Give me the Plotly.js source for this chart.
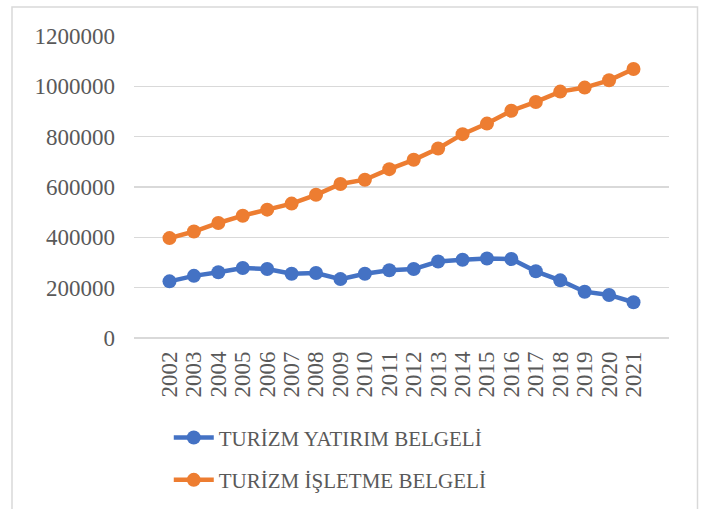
<!DOCTYPE html>
<html>
<head>
<meta charset="utf-8">
<script src="https://cdn.plot.ly/plotly-3.0.1.min.js"></script>
<style>html,body{margin:0;padding:0;background:#fff;}#chart{width:703px;height:509px;}</style>
</head>
<body>
<div id="chart"></div>
<script>
var years = ["2002","2003","2004","2005","2006","2007","2008","2009","2010","2011","2012","2013","2014","2015","2016","2017","2018","2019","2020","2021"];
var yatirim = [225000,247000,261000,278000,274000,255000,258000,234000,255000,269000,274000,304000,311000,316000,314000,265000,229000,184000,171000,142000];
var isletme = [397000,423000,457000,486000,510000,534000,569000,612000,629000,671000,708000,753000,810000,852000,903000,938000,979000,995000,1024000,1069000];
var seriesNames = ["TURİZM YATIRIM BELGELİ","TURİZM İŞLETME BELGELİ"];
var yTicks = [0,200000,400000,600000,800000,1000000,1200000];

var font = "Liberation Serif";
var textColor = "#595959";
var traces = [
  {x: years, y: yatirim, name: seriesNames[0], legendgroup: "g1", type: "scatter", mode: "lines+markers",
   line: {color: "#4472C4", width: 4.5}, marker: {color: "#4472C4", size: 14}},
  {x: years, y: isletme, name: seriesNames[1], legendgroup: "g2", type: "scatter", mode: "lines+markers",
   line: {color: "#ED7D31", width: 4.5}, marker: {color: "#ED7D31", size: 14}}
];
var layout = {
  width: 703, height: 509,
  margin: {l: 134, r: 34, t: 36, b: 171},
  paper_bgcolor: "#fff", plot_bgcolor: "#fff",
  font: {family: font, color: textColor, size: 22},
  showlegend: true,
  legend: {x: 0.065, xanchor: "left", yref: "container", y: 0.18, yanchor: "top", orientation: "v",
           font: {family: font, size: 21, color: textColor}, itemwidth: 40, tracegroupgap: 12,
           bgcolor: "rgba(0,0,0,0)"},
  xaxis: {type: "category", tickangle: -90, showgrid: false, zeroline: false, tickmode: "array", tickvals: years, ticktext: years,
          showline: false, ticks: "", ticklen: 0, ticklabelstandoff: 8,
          tickfont: {family: font, size: 23, color: textColor}, automargin: false},
  yaxis: {range: [0, 1200000], tickvals: yTicks, ticktext: yTicks.map(String), showgrid: true, gridcolor: "#D9D9D9", gridwidth: 1.3,
          zeroline: true, zerolinecolor: "#D9D9D9", zerolinewidth: 1.3, showline: false, ticks: "", ticklabelstandoff: 18,
          tickfont: {family: font, size: 23, color: textColor}, automargin: false},
  shapes: [{type: "rect", xref: "paper", yref: "paper",
            x0: (12 - 134) / 535, x1: (697.5 - 134) / 535,
            y0: (338 - 520) / 302, y1: (338 - 7) / 302,
            line: {color: "#D9D9D9", width: 1.5}, fillcolor: "rgba(0,0,0,0)", layer: "below"}]
};
Plotly.newPlot("chart", traces, layout, {staticPlot: true, displayModeBar: false});
</script>
</body>
</html>
